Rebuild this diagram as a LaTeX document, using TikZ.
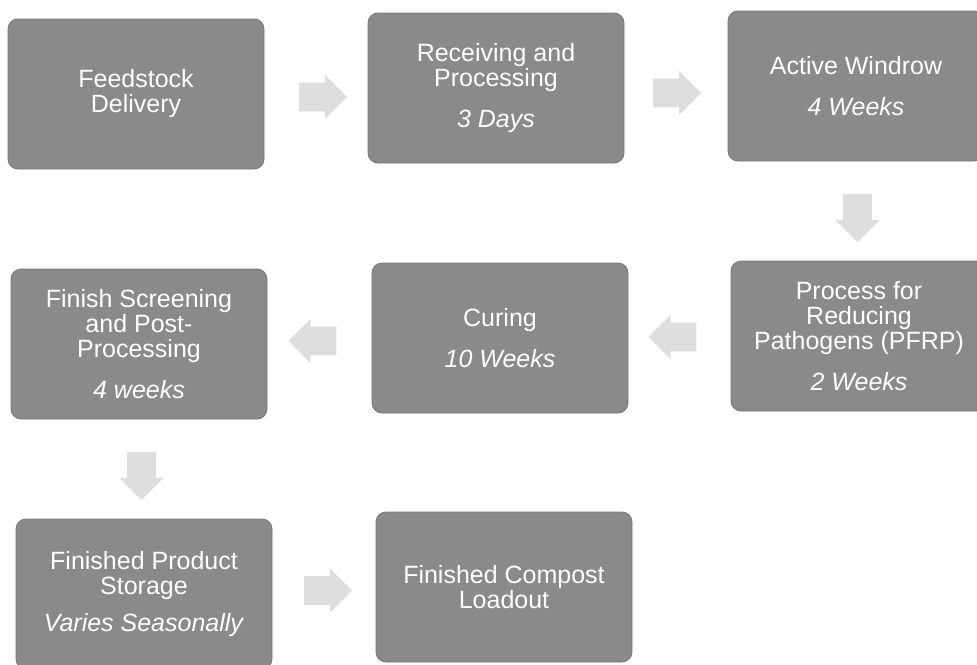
\documentclass[tikz,border=0pt]{standalone}
\usepackage{fontspec}
\setmainfont{Liberation Sans}
\usetikzlibrary{calc, shapes.arrows}

\definecolor{stagegray}{RGB}{138,138,138}
\definecolor{flowgray}{RGB}{222,222,222}

\tikzset{
	stage/.style={draw=stagegray!85!black, fill=stagegray, rounded corners=5pt,
		text=white, align=center, font=\fontsize{12.5}{12.5}\selectfont,
		minimum width=128pt, minimum height=75pt, inner sep=2pt},
	flow/.style={single arrow, fill=flowgray, draw=none, minimum height=24pt,
		inner sep=7pt, single arrow head extend=4pt,
		single arrow head indent=0pt}
}

\begin{document}
\begin{tikzpicture}[x=0.5pt, y=-0.5pt]
					\def\W{977};
					\def\H{664};
					
					\useasboundingbox (0,0) rectangle (\W,\H);
					\clip (0,0) rectangle (\W,\H);
					
					% stages, in the order the material goes through them
					\begin{scope}
						\node[stage] (delivery) at (136,94) {Feedstock\\Delivery};
						\node[stage] (receiving) at (496,88) {Receiving and\\Processing\\[8pt]\textit{3 Days}};
						\node[stage] (windrow) at (856,86) {Active Windrow\\[8pt]\textit{4 Weeks}};
						\node[stage] (pfrp) at (859,336) {Process for\\Reducing\\Pathogens (PFRP)\\[8pt]\textit{2 Weeks}};
						\node[stage] (curing) at (500,338) {Curing\\[8pt]\textit{10 Weeks}};
						\node[stage] (screening) at (139,344) {Finish Screening\\and Post-\\Processing\\[8pt]\textit{4 weeks}};
						\node[stage] (storage) at (144,594) {Finished Product\\Storage\\[6pt]\textit{Varies Seasonally}};
						\node[stage] (loadout) at (504,587) {Finished Compost\\Loadout};
					\end{scope}
					
					% block arrows between the stages
					\begin{scope}
						\node[flow] (f1) at ($(delivery.east)!0.5!(receiving.west)+(0,6)$) {};
						\node[flow] (f2) at ($(receiving.east)!0.5!(windrow.west)+(-6,6)$) {};
						\node[flow, shape border rotate=270] (f3) at ($(windrow.south)!0.5!(pfrp.north)$) {};
						\node[flow, shape border rotate=180] (f4) at ($(pfrp.west)!0.5!(curing.east)$) {};
						\node[flow, shape border rotate=180] (f5) at ($(curing.west)!0.5!(screening.east)$) {};
						\node[flow, shape border rotate=270] (f6) at ($(screening.south)!0.5!(storage.north)$) {};
						\node[flow] (f7) at ($(storage.east)!0.5!(loadout.west)+(-3,0)$) {};
					\end{scope}
				\end{tikzpicture}
\end{document}
